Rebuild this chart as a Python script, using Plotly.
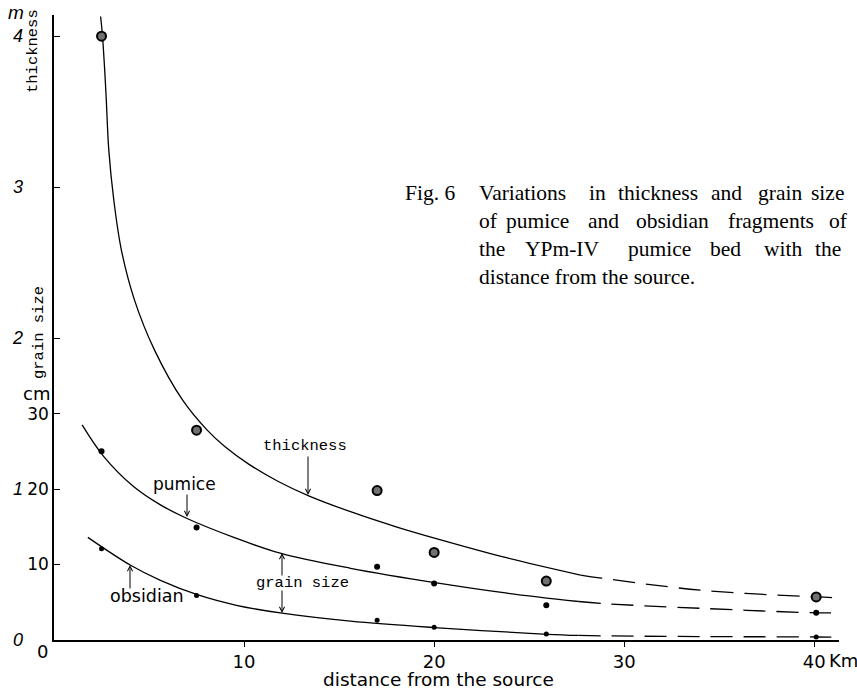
import plotly.graph_objects as go

# ---------------- data ----------------
# measured points
pt_km = [2.5, 7.5, 17.0, 20.0, 25.9, 40.1]
thick_m = [4.0, 1.39, 0.99, 0.58, 0.39, 0.285]
pumice_cm = [25.0, 14.9, 9.7, 7.5, 4.6, 3.6]
obsidian_cm = [12.1, 5.9, 2.6, 1.7, 0.8, 0.4]

# drawn curves (solid part)
thick_curve_km = [2.45, 2.54, 2.66, 2.75, 2.88, 3.15, 3.55, 4.24, 5.29, 6.76, 8.06, 9.0, 10.3, 11.8, 13.4, 15.6, 18.0, 20.3, 23.8, 27.7]
thick_curve_m = [4.13, 4.02, 3.79, 3.58, 3.25, 2.91, 2.58, 2.25, 1.92, 1.59, 1.39, 1.28, 1.16, 1.05, 0.955, 0.85, 0.75, 0.665, 0.545, 0.43]
pumice_curve_km = [1.48, 2.62, 4.2, 5.6, 7.0, 9.46, 11.9, 15.6, 20.3, 23.85, 27.6]
pumice_curve_cm = [28.5, 24.3, 20.3, 17.9, 16.1, 13.6, 11.5, 9.5, 7.5, 6.2, 5.1]
obsidian_curve_km = [1.78, 4.03, 5.6, 7.54, 9.6, 12.0, 15.6, 20.0, 25.96, 27.6]
obsidian_curve_cm = [13.6, 9.9, 7.9, 6.0, 4.6, 3.55, 2.5, 1.65, 0.75, 0.6]

# extrapolated (dashed) parts
thick_dash_km = [27.7, 28.8, 34.0, 40.1, 41.2]
thick_dash_m = [0.43, 0.41, 0.33, 0.285, 0.28]
pumice_dash_km = [27.6, 29.1, 34.0, 40.1, 41.2]
pumice_dash_cm = [5.1, 4.8, 4.2, 3.6, 3.6]
obsidian_dash_km = [27.6, 28.8, 34.0, 40.1, 41.2]
obsidian_dash_cm = [0.6, 0.55, 0.45, 0.4, 0.35]

x_tickvals = [10, 20, 30, 40]
x_ticktext = ["10", "20", "30", "40"]
cm_tickvals = [10, 20, 30]
cm_ticktext = ["10", "20", "30"]
m_tickvals = [0, 1, 2, 3, 4]
m_ticktext = ["<i>0</i>", "<i>1</i>", "<i>2</i>", "<i>3</i>", "<i>4</i>"]

CM_PER_M = 20
X_RANGE = [0, 41.3]
Y_RANGE_CM = [0, 82.8]

# ---------------- layout helpers ----------------
L, R, T, B = 54, 18, 15, 50
W, H = 857, 690
PW, PH = W - L - R, H - T - B


def px(x):
    return (x - L) / PW


def py(y):
    return (H - B - y) / PH


SANS = "DejaVu Sans"
MONO = "Liberation Mono"
SERIF = "Liberation Serif"

fig = go.Figure()

line_style = dict(color="black", width=1.3, shape="spline", smoothing=1.0)
dash_style = dict(color="black", width=1.3, dash="22px,11px", shape="spline", smoothing=1.0)

# curves
fig.add_trace(go.Scatter(x=thick_curve_km, y=thick_curve_m, mode="lines", line=line_style, yaxis="y2"))
fig.add_trace(go.Scatter(x=thick_dash_km, y=thick_dash_m, mode="lines", line=dash_style, yaxis="y2"))
fig.add_trace(go.Scatter(x=pumice_curve_km, y=pumice_curve_cm, mode="lines", line=line_style))
fig.add_trace(go.Scatter(x=pumice_dash_km, y=pumice_dash_cm, mode="lines", line=dash_style))
fig.add_trace(go.Scatter(x=obsidian_curve_km, y=obsidian_curve_cm, mode="lines", line=line_style))
fig.add_trace(go.Scatter(x=obsidian_dash_km, y=obsidian_dash_cm, mode="lines", line=dash_style))

# points
fig.add_trace(go.Scatter(x=pt_km, y=thick_m, mode="markers", yaxis="y2",
                         marker=dict(size=9, color="#707070", line=dict(color="black", width=2))))
fig.add_trace(go.Scatter(x=pt_km, y=pumice_cm, mode="markers",
                         marker=dict(size=6, color="black")))
fig.add_trace(go.Scatter(x=pt_km, y=obsidian_cm, mode="markers",
                         marker=dict(size=5, color="black")))

ann = []


def text(t, x, y, size=17, family=SANS, xanchor="center", yanchor="middle", angle=0):
    ann.append(dict(text=t, x=px(x), y=py(y), xref="paper", yref="paper", showarrow=False,
                    xanchor=xanchor, yanchor=yanchor, textangle=angle,
                    font=dict(family=family, size=size, color="black")))


def arrow(x, y_tip, y_tail):
    ann.append(dict(text="", x=px(x), y=py(y_tip), xref="paper", yref="paper",
                    ax=0, ay=y_tail - y_tip, axref="pixel", ayref="pixel",
                    showarrow=True, arrowhead=5, arrowsize=1, arrowwidth=1, arrowcolor="black"))


# axis side texts
text("<i>m</i>", 16, 13, size=19, family="Liberation Sans")
text("thickness", 33, 51, size=15.5, family=MONO, angle=-90)
text("grain size", 39, 333, size=15.5, family=MONO, angle=-90)
text("cm", 36, 393, size=18)
text("0", 42, 651, size=18)
text("Km", 827, 660, size=18, xanchor="left")
text("distance from the source", 438, 679, size=18.5)

# curve labels
text("thickness", 305, 446, size=15.5, family=MONO)
text("pumice", 184, 484, size=17)
text("grain size", 302, 583, size=15.5, family=MONO)
text("obsidian", 147, 596, size=17.5)

arrow(308, 495, 455)
arrow(187, 517, 493)
arrow(282, 553, 577)
arrow(282, 613, 589)
arrow(130, 565, 590)

# caption (justified lines: word positions)
caption = [
    (193, [(403, "Fig. 6"), (477, "Variations"), (587, "in"), (616, "thickness"), (709, "and"), (756, "grain"), (809, "size")]),
    (221, [(477, "of"), (504, "pumice"), (586, "and"), (634, "obsidian"), (726, "fragments"), (827, "of")]),
    (249, [(477, "the"), (523, "YPm-IV"), (626, "pumice"), (708, "bed"), (762, "with"), (813, "the")]),
    (277, [(477, "distance from the source.")]),
]
for yy, words in caption:
    for xx, w in words:
        text(w, xx, yy, size=21.5, family=SERIF, xanchor="left")

fig.update_layout(
    width=W, height=H,
    margin=dict(l=L, r=R, t=T, b=B, autoexpand=False),
    paper_bgcolor="white", plot_bgcolor="white",
    showlegend=False,
    annotations=ann,
    xaxis=dict(range=X_RANGE, showline=True, linecolor="black", linewidth=1.5,
               ticks="outside", ticklen=5, tickwidth=1, tickcolor="black",
               tickvals=x_tickvals, ticktext=x_ticktext,
               tickfont=dict(family=SANS, size=18, color="black"),
               showgrid=False, zeroline=False, automargin=False),
    yaxis=dict(range=Y_RANGE_CM, showline=True, linecolor="black", linewidth=1.5,
               ticks="inside", ticklen=6, tickwidth=1, tickcolor="black",
               tickvals=cm_tickvals, ticktext=cm_ticktext,
               tickfont=dict(family=SANS, size=17, color="black"),
               showgrid=False, zeroline=False, automargin=False),
    yaxis2=dict(range=[Y_RANGE_CM[0] / CM_PER_M, Y_RANGE_CM[1] / CM_PER_M], overlaying="y", side="left",
                anchor="x", showline=False, ticks="inside", ticklen=6, tickwidth=1, tickcolor="black",
                tickvals=m_tickvals, ticktext=m_ticktext, ticklabelstandoff=30,
                tickfont=dict(family="Liberation Sans", size=18, color="black"),
                showgrid=False, zeroline=False, automargin=False),
)

fig.write_html("out.html", config={"displayModeBar": False},
               post_script="document.body.style.margin='0';")
